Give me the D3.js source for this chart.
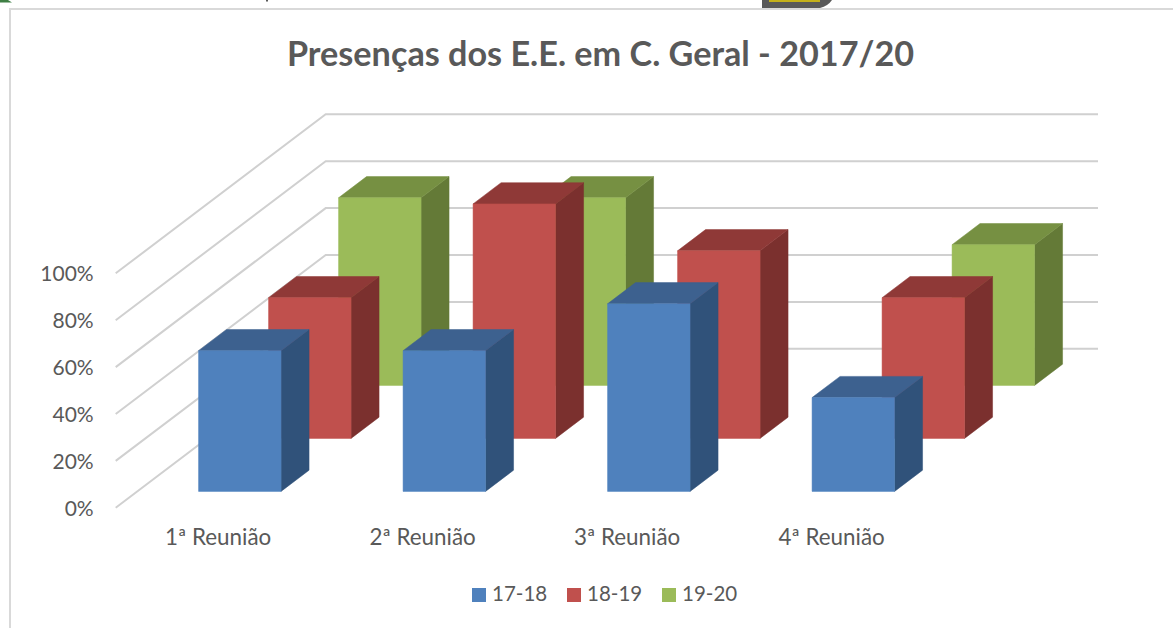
<!DOCTYPE html>
<html>
<head>
<meta charset="utf-8">
<script src="https://cdn.jsdelivr.net/npm/d3@7"></script>
<style>
  html, body { margin: 0; padding: 0; background: #fff; }
  svg { display: block; }
  text { font-family: Lato, "Open Sans", sans-serif; fill: #595959; }
</style>
</head>
<body>
<svg id="chart" width="1173" height="628"></svg>
<script>
const categories = ['1ª Reunião', '2ª Reunião', '3ª Reunião', '4ª Reunião'];
const seriesNames = ['17-18', '18-19', '19-20'];
const values1718 = [0.6, 0.6, 0.8, 0.4];
const values1819 = [0.6, 1.0, 0.8, 0.6];
const values1920 = [0.8, 0.8, null, 0.6];
const yTicks = [0, 0.2, 0.4, 0.6, 0.8, 1];
const chartTitle = 'Presenças dos E.E. em C. Geral - 2017/20';

const allValues = [values1718, values1819, values1920];
const colours = [
    {front: '#4f81bd', top: '#3d618f', side: '#30527a'},
    {front: '#c0504d', top: '#8f3937', side: '#7b302e'},
    {front: '#9bbb59', top: '#769042', side: '#647a37'}
];

const WIDTH = 1173, HEIGHT = 628;
const DEPTH_X = 210, DEPTH_Y = 159; // how far the back wall is shifted from the front
const WALL_LEFT = 115.7, WALL_RIGHT = 1098;

let svg = d3.select('#chart');

let x = d3.scaleBand().domain(categories).range([115.9, 933.9]).paddingInner(0.5966).paddingOuter(0.2983);
let y = d3.scaleLinear().domain([0, 1]).range([507.8, 273.3]);
let depth = d3.scaleBand().domain(seriesNames).range([0.5, DEPTH_Y + 0.5]).paddingInner(0.6).paddingOuter(0.3);

// front-plane x / value + depth offset -> screen position
function project(px, value, d) {
    return [px + d * DEPTH_X / DEPTH_Y, y(value) - d];
}

// bits of the neighbouring screenshot cut off at the top edge
svg.append('path').attr('d', 'M0,2.5L12,2.5L8,0L0,0Z').attr('fill', '#3f7f45');
svg.append('path').attr('d', 'M762,0L762,8L820,8Q828,6 832,0Z').attr('fill', '#595959');
svg.append('rect').attr('x', 769).attr('y', 0).attr('width', 51).attr('height', 2).attr('fill', '#c4b01a');
svg.append('rect').attr('x', 266).attr('y', 0).attr('width', 2).attr('height', 1.5).attr('fill', '#595959');

// chart frame
svg.append('path')
    .attr('d', `M${WIDTH},9H10V${HEIGHT}`)
    .attr('fill', 'none')
    .attr('stroke', '#d9d9d9')
    .attr('stroke-width', 2);

svg.append('text')
    .attr('x', 600.5)
    .attr('y', 65.5)
    .attr('text-anchor', 'middle')
    .attr('font-size', 34.2)
    .attr('font-weight', 700)
    .text(chartTitle);

// gridlines: side wall then back wall
let grid = svg.append('g').attr('fill', 'none').attr('stroke', '#d0d0d0').attr('stroke-width', 2);
yTicks.forEach((t) => {
    let front = project(WALL_LEFT, t, 0);
    let back = project(WALL_LEFT, t, DEPTH_Y);
    grid.append('path').attr('d', d3.line()([front, back, [WALL_RIGHT, back[1]]]));
});

// bars, back row first so the front rows paint over them
d3.range(seriesNames.length - 1, -1, -1).forEach((s) => {
    let name = seriesNames[s];
    let d0 = depth(name), d1 = d0 + depth.bandwidth();
    let c = colours[s];
    let row = svg.append('g').attr('class', 'series').attr('stroke-width', 0.5);

    categories.forEach((cat, i) => {
        let v = allValues[s][i];
        if (v === null) {
            return;
        }
        let x0 = x(cat), x1 = x0 + x.bandwidth();
        let poly = (pts, fill) => row.append('polygon')
            .attr('points', pts.map((p) => p.join(',')).join(' '))
            .attr('fill', fill)
            .attr('stroke', fill);

        poly([project(x1, 0, d0), project(x1, v, d0), project(x1, v, d1), project(x1, 0, d1)], c.side);
        poly([project(x0, v, d0), project(x1, v, d0), project(x1, v, d1), project(x0, v, d1)], c.top);
        poly([project(x0, 0, d0), project(x1, 0, d0), project(x1, v, d0), project(x0, v, d0)], c.front);
    });
});

// axes
let yAxis = svg.append('g')
    .attr('transform', `translate(${WALL_LEFT},0.5)`)
    .call(d3.axisLeft(y).tickValues(yTicks).tickSize(0).tickPadding(22).tickFormat(d3.format('.0%')));
yAxis.select('.domain').remove();
yAxis.selectAll('text').attr('font-family', null).attr('font-size', 21);

let xAxis = svg.append('g')
    .attr('transform', 'translate(0,529)')
    .call(d3.axisBottom(x).tickSize(0).tickPadding(0));
xAxis.select('.domain').remove();
xAxis.selectAll('text').attr('font-family', null).attr('font-size', 22.4);

// legend
let legendX = d3.scaleLinear().domain([0, 1]).range([472, 567]);
let legend = svg.append('g').selectAll('g').data(seriesNames).join('g')
    .attr('transform', (d, i) => `translate(${legendX(i)},588)`);
legend.append('rect').attr('width', 14).attr('height', 14).attr('fill', (d, i) => colours[i].front);
legend.append('text').attr('x', 20).attr('y', 12.5).attr('font-size', 20.5).text((d) => d);
</script>
</body>
</html>
